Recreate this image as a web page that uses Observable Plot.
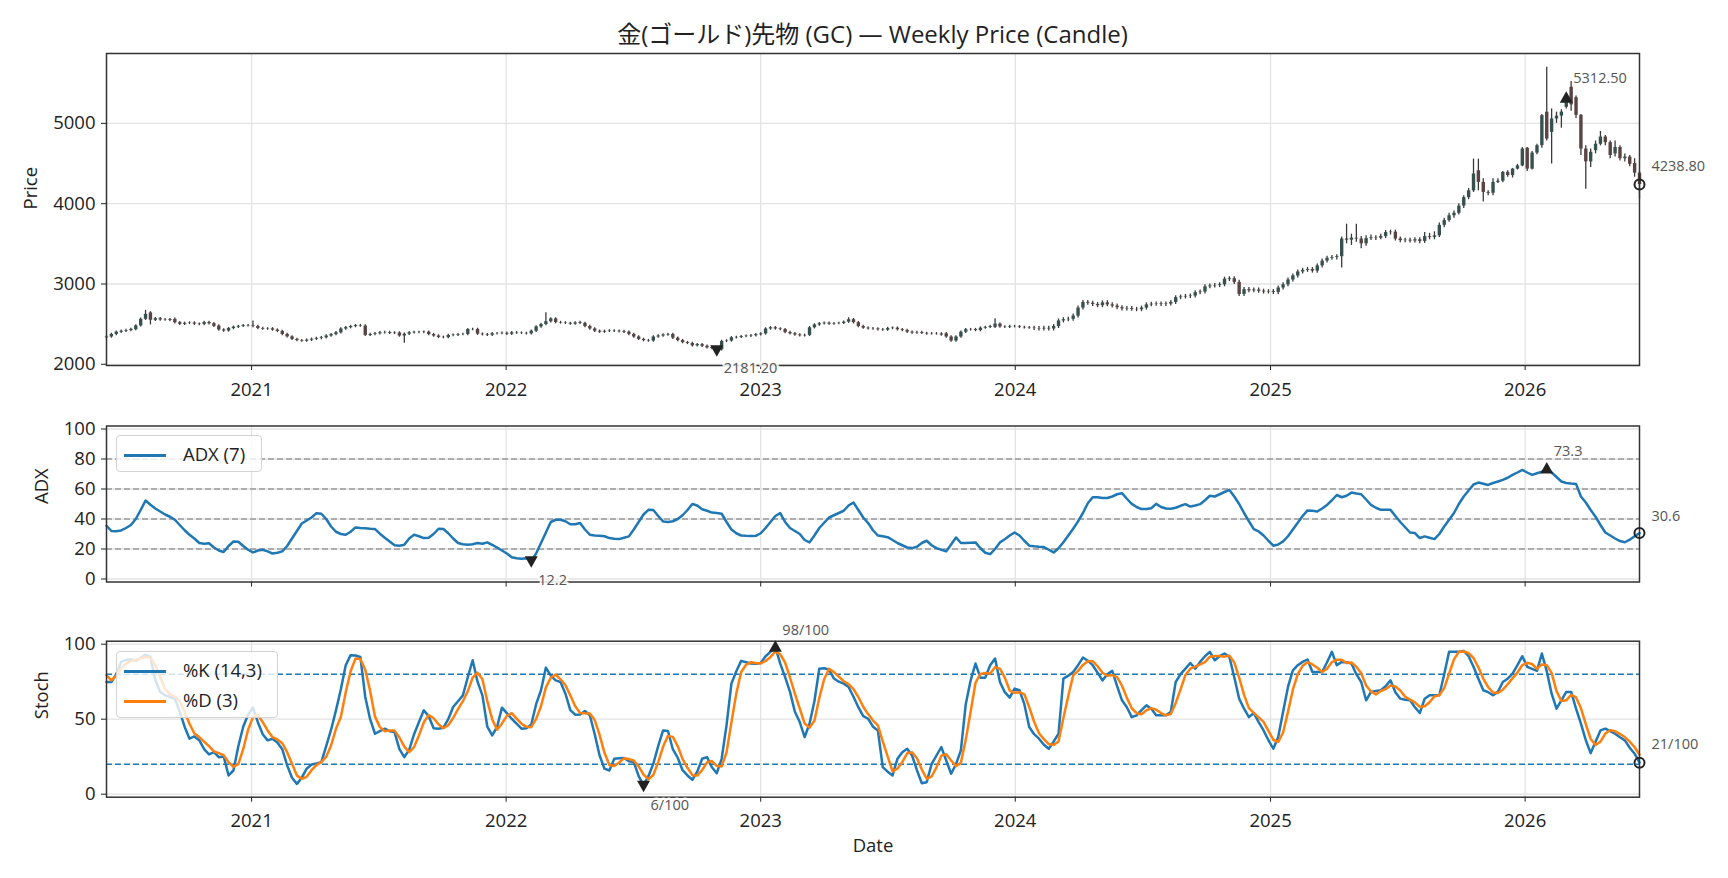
<!DOCTYPE html>
<html>
<head>
<meta charset="utf-8">
<script src="https://cdn.jsdelivr.net/npm/d3@7"></script>
<script src="https://cdn.jsdelivr.net/npm/@observablehq/plot@0.6"></script>
<style>
  html, body { margin: 0; padding: 0; background: #fff; }
  body { width: 1728px; height: 878px; position: relative; overflow: hidden;
         font-family: "Open Sans", "Noto Sans CJK JP", sans-serif; color: #222; }
  .panel { position: absolute; left: 0; }
  .title { position: absolute; left: 106px; width: 1533px; top: 18px; text-align: center;
           font-size: 24px; line-height: 32px; color: #222; }
  .legend { position: absolute; background: rgba(255,255,255,0.8); border: 1px solid #d3d3d3;
            border-radius: 4px; box-sizing: border-box; }
  .legend .sw { position: absolute; left: 7px; width: 42px; height: 2.5px; }
  .legend .lb { position: absolute; left: 66px; font-size: 18.5px; line-height: 22px; white-space: nowrap; color: #222; }
</style>
</head>
<body>
<div class="title">金(ゴールド)先物 (GC) — Weekly Price (Candle)</div>
<div id="p1" class="panel" style="top:0px"></div>
<div id="p2" class="panel" style="top:400px"></div>
<div id="p3" class="panel" style="top:610px"></div>

<div class="legend" style="left:116px;top:435px;width:146px;height:37px;">
  <div class="sw" style="top:18px;background:#1f77b4"></div>
  <div class="lb" style="top:7px">ADX (7)</div>
</div>
<div class="legend" style="left:116px;top:651px;width:162px;height:67px;">
  <div class="sw" style="top:18px;background:#1f77b4"></div>
  <div class="lb" style="top:7px">%K (14,3)</div>
  <div class="sw" style="top:48px;background:#ff7f0e"></div>
  <div class="lb" style="top:37px">%D (3)</div>
</div>

<script>
// ---------------- DATA ----------------
const startDate = "2020-06-07";   // first weekly bar
const tickYears = [2021, 2022, 2023, 2024, 2025, 2026];
const priceTicks = [2000, 3000, 4000, 5000];
const adxTicks = [0, 20, 40, 60, 80, 100];
const adxLevels = [20, 40, 60, 80];
const stochTicks = [0, 50, 100];
const stochLevels = [20, 80];

const open = [
2330,2340,2372,2400,2412,2420,2432,2478,2560,2640,
2548,2568,2552,2556,2560,2518,2498,2510,2514,2500,
2496,2520,2505,2476,2428,2415,2445,2462,2472,2482,
2478,2470,2446,2438,2442,2426,2410,2372,2342,2310,
2295,2288,2300,2312,2322,2330,2352,2370,2392,2440,
2456,2470,2482,2476,2360,2372,2380,2392,2395,2385,
2390,2352,2375,2392,2398,2396,2400,2370,2352,2335,
2332,2358,2362,2370,2372,2432,2434,2375,2368,2362,
2380,2382,2386,2375,2392,2388,2385,2380,2412,2465,
2495,2530,2565,2520,2515,2510,2500,2520,2510,2470,
2440,2412,2400,2410,2415,2412,2410,2400,2372,2340,
2310,2295,2290,2340,2352,2365,2372,2325,2295,2270,
2260,2230,2245,2225,2210,2195,2181,2285,2290,2330,
2335,2345,2350,2355,2368,2378,2440,2455,2440,2432,
2395,2380,2365,2355,2360,2455,2490,2505,2512,2500,
2506,2510,2525,2555,2518,2470,2450,2442,2440,2430,
2425,2445,2450,2430,2420,2400,2390,2395,2385,2378,
2380,2378,2380,2340,2290,2340,2400,2430,2432,2420,
2450,2460,2460,2500,2465,2462,2470,2468,2460,2455,
2450,2445,2440,2448,2440,2470,2540,2555,2560,2600,
2700,2770,2760,2745,2730,2765,2740,2725,2705,2690,
2695,2684,2680,2700,2740,2748,2752,2745,2750,2770,
2830,2838,2845,2850,2892,2900,2965,2975,2980,2990,
3055,3065,3020,2870,2930,2915,2925,2910,2900,2905,
2895,2950,2990,3050,3100,3150,3170,3180,3160,3225,
3285,3320,3330,3340,3560,3545,3570,3560,3500,3565,
3575,3570,3590,3640,3645,3560,3540,3545,3535,3550,
3530,3590,3580,3600,3730,3790,3850,3880,3970,4075,
4160,4410,4265,4140,4130,4265,4280,4390,4350,4430,
4470,4690,4430,4630,4722,5139,4888,5055,5090,5200,
5450,5320,5100,4680,4520,4660,4740,4830,4760,4620,
4700,4560,4580,4500,4380
];
const high = [
2355,2387,2415,2427,2435,2450,2493,2575,2672,2655,
2583,2583,2571,2571,2575,2533,2525,2529,2529,2515,
2535,2535,2520,2491,2443,2460,2477,2487,2497,2497,
2540,2485,2461,2457,2457,2441,2425,2387,2357,2325,
2310,2315,2327,2337,2345,2367,2385,2407,2455,2471,
2485,2497,2497,2491,2387,2395,2407,2410,2410,2405,
2405,2390,2407,2413,2413,2415,2415,2385,2367,2350,
2373,2377,2385,2387,2447,2449,2449,2390,2383,2395,
2397,2401,2401,2407,2407,2403,2400,2427,2480,2510,
2642,2580,2580,2535,2530,2525,2530,2535,2525,2485,
2455,2427,2425,2430,2430,2427,2425,2415,2387,2355,
2325,2310,2355,2367,2380,2387,2387,2340,2310,2285,
2275,2260,2260,2240,2225,2210,2300,2305,2345,2350,
2360,2365,2370,2383,2393,2455,2470,2470,2455,2447,
2410,2395,2380,2375,2470,2505,2520,2527,2527,2521,
2525,2540,2580,2570,2533,2485,2465,2457,2455,2445,
2460,2465,2465,2445,2435,2415,2410,2410,2400,2395,
2395,2393,2395,2355,2355,2415,2445,2447,2447,2465,
2475,2485,2568,2515,2480,2485,2485,2483,2475,2470,
2475,2470,2473,2473,2495,2565,2580,2585,2625,2725,
2795,2795,2785,2770,2790,2790,2765,2750,2730,2720,
2720,2709,2725,2765,2773,2777,2777,2775,2795,2855,
2863,2870,2875,2917,2925,2990,3000,3005,3015,3085,
3090,3090,3045,2955,2955,2950,2950,2935,2930,2930,
2975,3015,3075,3125,3175,3195,3205,3205,3250,3310,
3345,3355,3365,3585,3745,3620,3745,3590,3600,3610,
3600,3620,3665,3670,3670,3585,3570,3570,3575,3575,
3640,3630,3650,3760,3820,3880,3910,4000,4100,4190,
4555,4555,4310,4160,4310,4310,4400,4410,4440,4490,
4700,4700,4650,4740,5110,5700,5180,5140,5170,5330,
5520,5340,5110,4720,4680,4780,4900,4850,4780,4780,
4720,4620,4600,4560,4400
];
const low = [
2315,2325,2357,2385,2397,2405,2417,2463,2545,2490,
2533,2537,2537,2530,2503,2483,2483,2495,2485,2481,
2481,2490,2457,2413,2400,2400,2430,2447,2457,2463,
2455,2431,2423,2423,2411,2395,2357,2327,2295,2280,
2273,2273,2285,2297,2307,2315,2337,2355,2377,2425,
2441,2455,2461,2345,2345,2357,2365,2377,2370,2370,
2337,2262,2360,2377,2381,2381,2355,2337,2320,2317,
2317,2343,2347,2355,2357,2417,2360,2353,2347,2347,
2365,2367,2360,2360,2373,2370,2365,2365,2397,2450,
2480,2515,2505,2500,2495,2485,2485,2495,2455,2425,
2397,2385,2385,2395,2397,2390,2385,2357,2325,2295,
2280,2275,2275,2325,2337,2350,2310,2280,2255,2245,
2215,2215,2210,2190,2180,2166,2166,2270,2275,2315,
2320,2330,2335,2340,2353,2363,2425,2425,2417,2380,
2365,2350,2340,2340,2345,2440,2475,2490,2485,2485,
2491,2495,2510,2503,2455,2435,2427,2425,2415,2410,
2410,2430,2415,2405,2385,2375,2375,2370,2363,2363,
2363,2350,2325,2275,2275,2325,2385,2415,2405,2405,
2435,2445,2445,2450,2447,2447,2453,2445,2440,2435,
2420,2415,2415,2415,2415,2445,2515,2530,2535,2575,
2675,2735,2720,2705,2705,2715,2700,2680,2665,2665,
2659,2655,2655,2675,2715,2723,2720,2720,2725,2745,
2805,2813,2820,2825,2867,2875,2940,2950,2955,2965,
3030,2995,2845,2845,2890,2890,2885,2875,2875,2870,
2870,2925,2965,3025,3075,3125,3145,3135,3135,3200,
3260,3295,3300,3200,3500,3480,3520,3440,3470,3540,
3540,3550,3565,3610,3535,3515,3515,3510,3510,3500,
3505,3550,3550,3580,3700,3770,3820,3860,3940,4050,
4140,4160,4020,4100,4100,4250,4260,4330,4320,4420,
4460,4400,4420,4610,4690,4780,4494,5000,4940,5180,
5150,5060,4600,4180,4450,4620,4720,4720,4560,4580,
4530,4520,4460,4330,4060
];
const close = [
2340,2372,2400,2412,2420,2435,2478,2560,2622,2548,
2568,2552,2556,2545,2518,2498,2510,2514,2500,2496,
2520,2505,2472,2428,2415,2445,2462,2472,2482,2478,
2470,2446,2438,2442,2426,2410,2372,2342,2310,2295,
2288,2300,2312,2322,2330,2352,2370,2392,2440,2456,
2470,2482,2476,2360,2372,2380,2392,2395,2385,2390,
2352,2375,2392,2398,2396,2400,2370,2352,2335,2332,
2358,2362,2370,2372,2432,2434,2375,2368,2362,2380,
2382,2386,2375,2392,2388,2385,2380,2412,2465,2495,
2530,2565,2520,2515,2510,2500,2515,2510,2470,2440,
2412,2400,2410,2415,2412,2405,2400,2372,2340,2310,
2295,2290,2340,2352,2365,2372,2325,2295,2270,2260,
2230,2245,2225,2205,2195,2181.2,2285,2290,2330,2335,
2345,2350,2355,2368,2378,2440,2455,2440,2432,2395,
2380,2365,2355,2360,2455,2490,2505,2512,2500,2506,
2510,2525,2555,2518,2470,2450,2442,2440,2430,2425,
2445,2450,2430,2420,2400,2390,2395,2385,2378,2380,
2378,2365,2340,2290,2340,2400,2430,2432,2420,2450,
2460,2470,2500,2465,2462,2470,2468,2460,2455,2450,
2445,2440,2448,2440,2470,2540,2555,2560,2600,2700,
2770,2760,2745,2730,2765,2740,2725,2705,2690,2695,
2684,2680,2700,2740,2748,2752,2745,2750,2770,2830,
2838,2845,2850,2892,2900,2965,2975,2980,2990,3060,
3065,3020,2870,2930,2915,2925,2910,2900,2905,2895,
2950,2990,3050,3100,3150,3170,3180,3160,3225,3285,
3320,3330,3340,3560,3545,3570,3560,3500,3565,3575,
3570,3590,3640,3645,3560,3540,3545,3535,3550,3530,
3590,3580,3600,3730,3790,3850,3880,3970,4075,4160,
4370,4265,4140,4130,4265,4280,4390,4350,4430,4470,
4680,4430,4630,4722,5096,4805,5055,5090,5140,5312.5,
5230,5100,4680,4520,4640,4740,4830,4760,4600,4700,
4560,4580,4490,4380,4238.8
];
const adx = [
35.5,32,31.8,32.4,34,36,40,46,52.3,49.5,
47,45,43,41.5,39.5,36,32.5,29.5,27,24,
23.5,23.8,21,19,18,22,25,24.8,22,19.5,
17.7,19,19.5,18.4,17,17.5,18.4,22,27,32,
37,39,41,43.9,43.5,40,35,31.5,30,29.5,
31.5,34.4,34,33.8,33.5,33.3,30.2,27.5,25,22.5,
22.2,22.8,27,29.5,28.5,27.3,27.5,30,33.5,33.3,
30.5,27,24,23.2,22.8,23.2,24,23.5,24.4,22.8,
21,19,17,14.5,13.8,13.5,13.8,12.2,17,24,
31,38,39.5,39.5,38.5,36.5,36.5,37.3,33,29.5,
29,28.8,28.5,27.3,26.8,26.6,27.5,28.4,33,38,
43,46.1,46,42,38.4,38,38.5,40,42.5,46,
50,49,46.5,45.5,44.3,44,43.5,38,33,30.5,
29,28.8,28.7,28.8,30.5,34,38,42,43.9,38,
34,32,30,26,24.4,29,34,37.5,41,42.5,
44,45.5,49,51,46,41,37.3,32.5,29,28.5,
27.9,26,24,22.5,21,20.6,21.5,24,25.5,22.5,
20.6,19.5,18.4,23,27.7,24,24,24.2,24.4,20.5,
17.5,16.6,20,24.4,26.5,29,31,29,25.5,22.2,
21.8,21.5,21.3,19.5,17.7,20.5,24.5,29,33.5,38.4,
44,50.5,54.5,54.5,54,54,55,56.5,57.2,53.5,
50.1,48,46.6,46.6,47.2,50.1,48,47,46.8,47.5,
48.8,49.9,48.3,49,49.9,52.5,55.5,55,56.5,58,
59.4,55,50,44,38.5,33.3,31.7,29,25.5,22.2,
23,25.1,28.5,33,37.5,42,45.7,45.5,45,47,
49.4,52.5,56,54.5,55.5,57.6,57,56.5,53,49.4,
47.5,46.1,46.1,46.1,42,38,34.5,31,30.6,27.3,
28.4,27.5,26.6,30,35,39.5,44,50,55,59,
63,64.3,63.5,62.7,64,65,66.1,67.5,69.4,71,
72.7,71,69.4,70.5,71.5,73.3,71,68,65,64,
63.6,63.4,55,51,46,41.5,36,31,29,27,
25.3,24.5,26.2,28.5,30.6
];
const stochK = [
74.8,74.8,80,88.2,89.5,89.8,88.9,91,92.9,91.5,
75.9,68.2,66,64.8,63.7,55,45,37,38.5,36,
30,26.5,28.1,24.7,25.2,12.5,15.8,32,45,53,
57.7,48,40,35.9,37,34.5,30,19.2,11,6.9,
11,17,19.8,20.5,21.4,32,43,55.9,70,86,
92.7,92.5,91.5,64.8,50,40.3,42,43.7,42,41.4,
30,24.7,29.6,40,48.1,55.9,52,44,43.7,44.3,
50,58.1,62,65.9,78,89.3,75,65.9,45,39.2,
44.8,57.7,54,50.3,47,43.7,44,46.5,60,69.3,
84.4,79,75.9,74.8,67,56,53,53.2,55.5,52.6,
40,25.8,17,15.8,23.6,24,24.1,22,21.4,12,
6,12,20.3,32,42.5,42.1,30,24.3,16,12.5,
9.6,15,23.6,24.7,18,14,23.6,46,73.7,82,
88.9,88,87.1,87,87.5,92,94.9,98,87.1,78,
68.2,55,48.1,38.1,47,62,83.7,84,83.1,77.1,
75,73.7,71.5,65,58,52,50.3,45,42.5,18,
15,12.5,23.6,28,30.3,25.8,16,7.3,8,20,
25.8,31.4,22.5,13.6,20,29.2,60,75.9,87.1,77.7,
77.7,86,90.4,74.8,68,64.4,70.4,69.3,60,44.8,
40,37,33,30.3,35,40.3,77.1,79,81.5,86,
91.1,89,86,81,75.9,80,82.2,72,62.6,58,
51.4,52.6,56,59.2,57,52.6,52.6,52.6,55,74.8,
80,83.7,87.5,83.7,88.2,92,94.9,89.3,92,93.8,
91.5,78,63.7,57,51.4,54.1,48,42.5,36,30.3,
38.1,55,71.5,82.6,86,88.2,89.8,81.5,81.5,81.5,
88,94.9,86,88.2,88,87.1,80,74.8,62.6,68.2,
68.8,69.3,72,75.9,68,63.7,63,62.6,58,54.1,
63.7,66,66,66,80,94.9,94.9,94.9,95.5,92,
84.9,77,69.3,68,66,68.2,74.8,77,80.4,86,
92,84.9,83.5,82.2,93.8,82,67,57,62.6,68.2,
68.2,57,47,36,27.4,35,42.5,43.7,42,40.3,
38,35.9,31,27,21
];
const stochD = [
79.3,75.9,79,84,87,88.9,89.5,90.5,91.5,91,
86,78,70,66.6,65,62,54.8,47,40.5,38.1,
35,32,28.5,27.4,26,21.4,18.3,20,30,43,
51.4,53,48,42.5,38,36.5,34,28,20.3,12.4,
10.2,11.6,16,19.4,21.4,25,32.5,43.6,51.4,68,
82,90.4,90.2,83,68.8,51.7,44.7,42,42.4,42.4,
37.8,31.7,28.1,31.4,39.2,48,52.7,50.6,46.6,44,
46,50.8,56.7,62,68.6,77.7,81,76.7,62,50,
43,47.2,52.2,54,50.4,47,44.9,44.7,50.2,58.6,
71.2,77.6,79.8,76.6,72.6,65.9,58.7,54.1,53.9,53.8,
49.4,39.5,27.6,19.5,18.8,21.1,23.9,23.4,22.5,18.5,
13.1,10,12.8,21.4,31.6,38.9,38.2,32.1,23.4,17.6,
12.7,12.4,16.1,21.1,22.1,18.9,18.5,27.9,47.8,67.2,
81.5,86.3,88,87.4,87.2,88.8,91.5,95,93.3,87.7,
77.8,67.1,57.1,47.1,44.4,49,64.2,76.6,83.6,81.4,
78.4,75.3,73.4,70.1,64.8,58.3,53.4,49.1,45.9,35.2,
25.2,15.2,17,21.4,27.3,28,24,16.4,10.4,11.8,
17.9,25.7,26.6,22.5,18.7,20.9,36.4,55,74.3,80.2,
80.8,80.5,84.7,83.7,77.7,69.1,67.6,68,66.6,58,
48.3,40.6,36.7,33.4,32.8,35.2,50.8,65.5,79.2,82.2,
86.2,88.7,88.7,85.3,81,79,79.4,78.1,72.3,64.2,
57.3,54,53.3,55.9,57.4,56.3,54.1,52.6,53.4,60.8,
69.9,79.5,83.7,85,86.5,88,91.7,92.1,92.1,91.7,
92.4,87.8,77.7,66.2,57.4,54.2,51.2,48.2,42.2,36.3,
34.8,41.1,54.9,69.7,80,85.6,88,86.5,84.3,81.5,
83.7,88.1,89.6,89.7,87.4,87.8,85,80.6,72.5,68.5,
66.5,68.8,70,72.4,71.8,69.2,64.9,63.1,61.2,58.2,
58.6,61.3,65.2,66,70.7,80.3,89.9,94.9,95.1,94.1,
90.8,84.6,77.1,71.4,67.8,67.4,69.7,73.3,77.4,81.1,
86.1,87.6,86.8,83.5,86.5,86,80.9,68.7,62.2,62.6,
66.3,64.5,57.4,46.7,36.8,32.8,35,40.4,42.7,42,
40.1,38.1,35,31.3,26.3
];

// ---------------- BUILD ----------------
const N = close.length;
const t0 = Date.parse(startDate + "T00:00:00Z");
const dates = d3.range(N).map(i => new Date(t0 + i * 7 * 86400000));
const rows = dates.map((d, i) => ({date: d, o: open[i], h: high[i], l: low[i], c: close[i],
  adx: adx[i], k: stochK[i], dd: stochD[i]}));
const yearTicks = tickYears.map(y => new Date(Date.UTC(y, 0, 1)));

const FONT = '"Open Sans", "Noto Sans CJK JP", sans-serif';
const common = {
  width: 1728, marginLeft: 106, marginRight: 89,
  style: {fontFamily: FONT, fontSize: "18.5px", background: "transparent", color: "#222", overflow: "visible"}
};
const xScale = {type: "utc", domain: [dates[0], dates[N - 1]], label: null};
const GRID = {stroke: "#e3e3e3", strokeOpacity: 1, strokeWidth: 1.3};
const LBL = {fill: "#555", fontSize: 14.5, textAnchor: "start"};
const HALO = {stroke: "white", strokeWidth: 5, paintOrder: "stroke", strokeOpacity: 0.85};
const plain = d => String(d);

const triUp = {draw(ctx) { ctx.moveTo(0, -7); ctx.lineTo(6.5, 4.5); ctx.lineTo(-6.5, 4.5); ctx.closePath(); }};
const triDown = {draw(ctx) { ctx.moveTo(0, 7); ctx.lineTo(6.5, -4.5); ctx.lineTo(-6.5, -4.5); ctx.closePath(); }};

function argmax(a) { let m = 0; a.forEach((v, i) => { if (v > a[m]) m = i; }); return m; }
function argmin(a) { let m = 0; a.forEach((v, i) => { if (v < a[m]) m = i; }); return m; }

function markerMarks(key, fmt, upDy, dnDy, lastDy, haloUp, haloDn) {
  const iMax = argmax(rows.map(r => r[key])), iMin = argmin(rows.map(r => r[key]));
  const mx = [rows[iMax]], mn = [rows[iMin]], ls = [rows[N - 1]];
  return [
    Plot.dot(mx, {x: "date", y: key, symbol: triUp, fill: "#222", stroke: "none"}),
    Plot.dot(mn, {x: "date", y: key, symbol: triDown, fill: "#222", stroke: "none"}),
    Plot.dot(ls, {x: "date", y: key, r: 5, fill: "none", stroke: "#222", strokeWidth: 2}),
    Plot.text(mx, {x: "date", y: key, text: d => fmt(d[key]), dx: 7, dy: upDy, ...LBL, ...(haloUp ? HALO : {})}),
    Plot.text(mn, {x: "date", y: key, text: d => fmt(d[key]), dx: 7, dy: dnDy, ...LBL, ...(haloDn ? HALO : {})}),
    Plot.text(ls, {x: "date", y: key, text: d => fmt(d[key]), dx: 12, dy: lastDy, ...LBL})
  ];
}

// Price panel
const pricePlot = Plot.plot({
  ...common, height: 400, marginTop: 53, marginBottom: 35,
  x: xScale, y: {domain: [1985, 5870], label: null},
  marks: [
    Plot.gridX(yearTicks, GRID),
    Plot.gridY(priceTicks, GRID),
    Plot.ruleX(rows, {x: "date", y1: "l", y2: "h", stroke: "#3a3a3a", strokeWidth: 1.3}),
    Plot.ruleX(rows, {x: "date", y1: "o", y2: "c", strokeWidth: 3.4,
      stroke: d => d.c >= d.o ? "#37524e" : "#594343"}),
    Plot.axisY(priceTicks, {tickSize: 5, tickPadding: 6, tickFormat: plain, label: null}),
    Plot.axisX(yearTicks, {tickSize: 5, tickPadding: 12, tickFormat: d3.utcFormat("%Y"), label: null}),
    Plot.frame({stroke: "#333", strokeWidth: 1.5}),
    Plot.text(["Price"], {frameAnchor: "left", dx: -75, rotate: -90, fill: "#222"}),
    ...markerMarks("c", v => v.toFixed(2), -20, 19, -18, false, true)
  ]
});
document.getElementById("p1").appendChild(pricePlot);

// ADX panel
const adxPlot = Plot.plot({
  ...common, height: 210, marginTop: 25.5, marginBottom: 28.5,
  x: xScale, y: {domain: [-2, 102], label: null},
  marks: [
    Plot.gridX(yearTicks, GRID),
    Plot.gridY(adxTicks, GRID),
    Plot.ruleY(adxLevels, {stroke: "#999", strokeWidth: 1.6, strokeDasharray: "6,3"}),
    Plot.line(rows, {x: "date", y: "adx", stroke: "#1f77b4", strokeWidth: 2.5}),
    Plot.axisY(adxTicks, {tickSize: 5, tickPadding: 6, tickFormat: plain, label: null}),
    Plot.axisX(yearTicks, {tickSize: 5, tickFormat: () => "", label: null}),
    Plot.frame({stroke: "#333", strokeWidth: 1.5}),
    Plot.text(["ADX"], {frameAnchor: "left", dx: -64, rotate: -90, fill: "#222"}),
    ...markerMarks("adx", v => v.toFixed(1), -18, 20, -17, false, true)
  ]
});
document.getElementById("p2").appendChild(adxPlot);

// Stochastic panel
const stochPlot = Plot.plot({
  ...common, height: 268, marginTop: 30.7, marginBottom: 81.3,
  x: xScale, y: {domain: [-2, 102], label: null},
  marks: [
    Plot.gridX(yearTicks, GRID),
    Plot.gridY(stochTicks, GRID),
    Plot.ruleY(stochLevels, {stroke: "#1f77b4", strokeWidth: 1.6, strokeDasharray: "6,3"}),
    Plot.line(rows, {x: "date", y: "k", stroke: "#1f77b4", strokeWidth: 2.5}),
    Plot.line(rows, {x: "date", y: "dd", stroke: "#ff7f0e", strokeWidth: 2.5}),
    Plot.axisY(stochTicks, {tickSize: 5, tickPadding: 6, tickFormat: plain, label: null}),
    Plot.axisX(yearTicks, {tickSize: 5, tickPadding: 12, tickFormat: d3.utcFormat("%Y"), label: null}),
    Plot.frame({stroke: "#333", strokeWidth: 1.5}),
    Plot.text(["Stoch"], {frameAnchor: "left", dx: -64, rotate: -90, fill: "#222"}),
    Plot.text(["Date"], {frameAnchor: "bottom", dy: 55, fill: "#222"}),
    ...markerMarks("k", v => Math.round(v) + "/100", -17, 20, -18, true, true)
  ]
});
document.getElementById("p3").appendChild(stochPlot);
</script>
</body>
</html>
